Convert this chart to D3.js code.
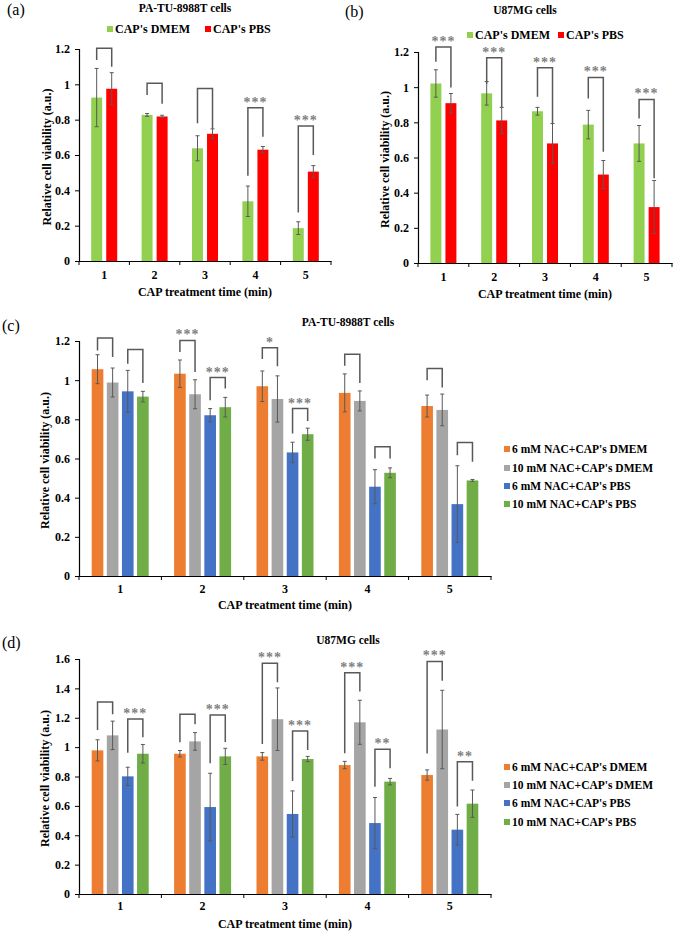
<!DOCTYPE html>
<html>
<head>
<meta charset="utf-8">
<script src="https://cdn.jsdelivr.net/npm/d3@7"></script>
<style>
  html, body { margin: 0; padding: 0; background: #fff; }
  svg { display: block; }
  text { font-family: "Liberation Serif", "Times New Roman", serif; }
</style>
</head>
<body>
<svg id="chart" width="675" height="932"></svg>
<script>
// ---------------- DATA ----------------
const categories = ["1", "2", "3", "4", "5"];

// Panel (a) PA-TU-8988T
const aDMEM = [0.925, 0.827, 0.638, 0.338, 0.186];
const aDMEMErr = [0.165, 0.008, 0.071, 0.086, 0.036];
const aPBS = [0.975, 0.818, 0.72, 0.63, 0.506];
const aPBSErr = [0.091, 0.007, 0.028, 0.018, 0.034];
const aBrTop = [1.204, 1.006, 0.977, 0.868, 0.764];
const aBrLeft = [1.138, 0.94, 0.78, 0.483, 0.275];
const aBrRight = [1.1, 0.89, 0.75, 0.704, 0.6];
const aStars = ["", "", "", "***", "***"];

// Panel (b) U87MG
const bDMEM = [1.021, 0.965, 0.863, 0.787, 0.68];
const bDMEMErr = [0.078, 0.067, 0.022, 0.081, 0.102];
const bPBS = [0.909, 0.811, 0.68, 0.503, 0.318];
const bPBSErr = [0.055, 0.074, 0.113, 0.08, 0.151];
const bBrTop = [1.229, 1.168, 1.111, 1.055, 0.93];
const bBrLeft = [1.144, 1.02, 0.945, 0.936, 0.822];
const bBrRight = [0.998, 0.885, 0.794, 0.633, 0.482];
const bStars = ["***", "***", "***", "***", "***"];

// Panel (c) PA-TU-8988T with NAC
const c6DMEM = [1.056, 1.033, 0.969, 0.935, 0.868];
const c6DMEMErr = [0.074, 0.07, 0.078, 0.097, 0.056];
const c10DMEM = [0.988, 0.928, 0.904, 0.894, 0.848];
const c10DMEMErr = [0.074, 0.074, 0.118, 0.051, 0.081];
const c6PBS = [0.943, 0.821, 0.631, 0.456, 0.367];
const c6PBSErr = [0.107, 0.034, 0.052, 0.087, 0.196];
const c10PBS = [0.916, 0.862, 0.724, 0.527, 0.488];
const c10PBSErr = [0.027, 0.05, 0.031, 0.025, 0.005];
const cBrDTop = [1.215, 1.203, 1.166, 1.132, 1.059];
const cBrDLeft = [1.152, 1.144, 1.108, 1.074, 1.0];
const cBrDRight = [1.118, 1.042, 1.071, 0.986, 0.962];
const cStarsD = ["", "***", "*", "", ""];
const cBrPTop = [1.156, 1.013, 0.855, 0.66, 0.682];
const cBrPLeft = [1.084, 0.897, 0.728, 0.6, 0.617];
const cBrPRight = [0.986, 0.957, 0.792, 0.6, 0.583];
const cStarsP = ["", "***", "***", "", ""];

// Panel (d) U87MG with NAC
const d6DMEM = [0.978, 0.955, 0.937, 0.878, 0.81];
const d6DMEMErr = [0.072, 0.022, 0.026, 0.025, 0.035];
const d10DMEM = [1.08, 1.039, 1.19, 1.169, 1.12];
const d10DMEMErr = [0.097, 0.06, 0.213, 0.15, 0.267];
const d6PBS = [0.801, 0.592, 0.545, 0.483, 0.438];
const d6PBSErr = [0.062, 0.23, 0.157, 0.174, 0.104];
const d10PBS = [0.955, 0.937, 0.919, 0.765, 0.615];
const d10PBSErr = [0.063, 0.055, 0.018, 0.022, 0.093];
const dBrDTop = [1.307, 1.223, 1.571, 1.507, 1.583];
const dBrDLeft = [1.117, 1.033, 1.021, 0.958, 0.957];
const dBrDRight = [1.223, 1.155, 1.441, 1.378, 1.452];
const dStarsD = ["", "", "***", "***", "***"];
const dBrPTop = [1.192, 1.219, 1.11, 0.985, 0.9];
const dBrPLeft = [0.962, 0.89, 0.769, 0.731, 0.596];
const dBrPRight = [1.067, 1.035, 0.98, 0.856, 0.771];
const dStarsP = ["***", "***", "***", "**", "**"];

const yTicks12 = [0, 0.2, 0.4, 0.6, 0.8, 1, 1.2];
const yTicks16 = [0, 0.2, 0.4, 0.6, 0.8, 1, 1.2, 1.4, 1.6];

const seriesAB = ["CAP's DMEM", "CAP's PBS"];
const colorsAB = ["#92D050", "#FF0000"];
const seriesCD = ["6 mM NAC+CAP's DMEM", "10 mM NAC+CAP's DMEM", "6 mM NAC+CAP's PBS", "10 mM NAC+CAP's PBS"];
const colorsCD = ["#ED7D31", "#A5A5A5", "#4472C4", "#70AD47"];

const yTitle = "Relative cell viability (a.u.)";
const xTitle = "CAP treatment time (min)";

// ---------------- DRAW ----------------
const svg = d3.select("#chart");
svg.append("rect").attr("width", 675).attr("height", 932).attr("fill", "#fff");

const ERR_COLOR = "#595959";
const BR_COLOR = "#595959";
const STAR_COLOR = "#808080";

function panel(cfg) {
  const g = svg.append("g");
  const x = d3.scaleBand().domain(categories).range(cfg.xRange).paddingInner(0).paddingOuter(0);
  const y = d3.scaleLinear().domain([0, cfg.yMax]).range(cfg.yRange);
  const xs = d3.scaleBand().domain(cfg.series).range([-cfg.groupW / 2, cfg.groupW / 2])
    .paddingInner(cfg.barPad).paddingOuter(0);
  const cx = (c) => x(c) + x.bandwidth() / 2;
  const sx = (c, s) => cx(c) + xs(s) + xs.bandwidth() / 2;

  // bars
  cfg.series.forEach((s, si) => {
    const vals = cfg.values[si];
    g.selectAll(null).data(categories).enter().append("rect")
      .attr("x", c => cx(c) + xs(s))
      .attr("width", xs.bandwidth())
      .attr("y", (c, i) => y(vals[i]))
      .attr("height", (c, i) => y(0) - y(vals[i]))
      .attr("fill", cfg.colors[si]);
  });
  // error bars
  cfg.series.forEach((s, si) => {
    const vals = cfg.values[si], errs = cfg.errors[si];
    categories.forEach((c, i) => {
      const xc = sx(c, s);
      const y1 = y(vals[i] + errs[i]), y2 = y(vals[i] - errs[i]);
      g.append("line").attr("x1", xc).attr("x2", xc).attr("y1", y1).attr("y2", y2)
        .attr("stroke", ERR_COLOR).attr("stroke-width", 1);
      [y1, y2].forEach(yy => g.append("line").attr("x1", xc - 2).attr("x2", xc + 2)
        .attr("y1", yy).attr("y2", yy).attr("stroke", ERR_COLOR).attr("stroke-width", 1));
    });
  });
  // brackets
  cfg.brackets.forEach(br => {
    categories.forEach((c, i) => {
      const xl = sx(c, cfg.series[br.pair[0]]), xr = sx(c, cfg.series[br.pair[1]]);
      const yt = y(br.top[i]);
      g.append("path")
        .attr("d", `M${xl},${y(br.left[i])}V${yt}H${xr}V${y(br.right[i])}`)
        .attr("fill", "none").attr("stroke", BR_COLOR).attr("stroke-width", 1.5);
      if (br.stars[i]) {
        g.append("text").attr("x", (xl + xr) / 2).attr("y", yt - 1)
          .attr("text-anchor", "middle")
          .attr("font-size", 14).attr("font-weight", "bold").attr("fill", STAR_COLOR)
          .attr("letter-spacing", 1)
          .text(br.stars[i]);
      }
    });
  });
  // axes
  const ya = g.append("g").attr("transform", `translate(${cfg.xRange[0]},0)`)
    .call(d3.axisLeft(y).tickValues(cfg.yTicks).tickSize(4).tickPadding(5).tickFormat(d3.format("")));
  const xa = g.append("g").attr("transform", `translate(0,${cfg.yRange[0]})`)
    .call(d3.axisBottom(x).tickSize(0).tickPadding(cfg.xLabelPad));
  [ya, xa].forEach(a => {
    a.attr("font-family", null).attr("font-size", null);
    a.select(".domain").attr("stroke", "#000").attr("stroke-width", 1.2);
    a.selectAll("text").attr("font-size", 12).attr("font-weight", "bold").attr("fill", "#000");
    a.selectAll(".tick line").attr("stroke", "#000");
  });
  // x boundary ticks
  const bounds = categories.map(c => x(c)).concat([cfg.xRange[1]]);
  g.selectAll(null).data(bounds).enter().append("line")
    .attr("x1", d => d).attr("x2", d => d)
    .attr("y1", cfg.yRange[0]).attr("y2", cfg.yRange[0] + 4)
    .attr("stroke", "#000").attr("stroke-width", 1);

  // titles
  g.append("text").attr("x", (cfg.xRange[0] + cfg.xRange[1]) / 2 + (cfg.xTitleShift || 0))
    .attr("y", cfg.yRange[0] + cfg.xTitlePad)
    .attr("text-anchor", "middle").attr("font-size", 12).attr("font-weight", "bold").text(xTitle);
  g.append("text").attr("transform", `translate(${cfg.yTitleX},${(cfg.yRange[0] + cfg.yRange[1]) / 2 + 2}) rotate(-90)`)
    .attr("text-anchor", "middle").attr("dominant-baseline", "central")
    .attr("font-size", 12).attr("font-weight", "bold").text(yTitle);
  g.append("text").attr("x", cfg.titlePos[0]).attr("y", cfg.titlePos[1])
    .attr("text-anchor", "middle").attr("dominant-baseline", "central")
    .attr("font-size", 11.5).attr("font-weight", "bold").text(cfg.title);
  g.append("text").attr("x", cfg.labelPos[0]).attr("y", cfg.labelPos[1])
    .attr("dominant-baseline", "central").attr("font-size", 16).text(cfg.label);

  // legend
  cfg.legend.forEach((p, i) => {
    g.append("rect").attr("x", p[0]).attr("y", p[1] - 3).attr("width", 6).attr("height", 6)
      .attr("fill", cfg.colors[i]);
    g.append("text").attr("x", p[0] + 8).attr("y", p[1]).attr("dominant-baseline", "central")
      .attr("font-size", cfg.legendFont).attr("font-weight", "bold").text(cfg.series[i]);
  });
}

panel({
  xRange: [79, 331], yRange: [261, 49], yMax: 1.2, yTicks: yTicks12,
  series: seriesAB, colors: colorsAB, groupW: 26, barPad: 0.27,
  values: [aDMEM, aPBS], errors: [aDMEMErr, aPBSErr],
  brackets: [{ pair: [0, 1], top: aBrTop, left: aBrLeft, right: aBrRight, stars: aStars }],
  xLabelPad: 9, xTitlePad: 35, yTitleX: 47,
  title: "PA-TU-8988T cells", titlePos: [185, 8], label: "(a)", labelPos: [7, 9],
  legend: [[107, 29], [205, 29]], legendFont: 12
});

panel({
  xRange: [418, 672], yRange: [263, 52], yMax: 1.2, yTicks: yTicks12,
  series: seriesAB, colors: colorsAB, groupW: 26, barPad: 0.27,
  values: [bDMEM, bPBS], errors: [bDMEMErr, bPBSErr],
  brackets: [{ pair: [0, 1], top: bBrTop, left: bBrLeft, right: bBrRight, stars: bStars }],
  xLabelPad: 9, xTitlePad: 35, yTitleX: 385,
  title: "U87MG cells", titlePos: [525, 10], label: "(b)", labelPos: [345, 11],
  legend: [[467, 35], [558, 35]], legendFont: 12
});

panel({
  xRange: [79, 491], yRange: [576, 341], yMax: 1.2, yTicks: yTicks12,
  series: seriesCD, colors: colorsCD, groupW: 57, barPad: 0.23,
  values: [c6DMEM, c10DMEM, c6PBS, c10PBS], errors: [c6DMEMErr, c10DMEMErr, c6PBSErr, c10PBSErr],
  brackets: [
    { pair: [0, 1], top: cBrDTop, left: cBrDLeft, right: cBrDRight, stars: cStarsD },
    { pair: [2, 3], top: cBrPTop, left: cBrPLeft, right: cBrPRight, stars: cStarsP }
  ],
  xLabelPad: 8, xTitlePad: 33, yTitleX: 45,
  title: "PA-TU-8988T cells", titlePos: [348, 322], label: "(c)", labelPos: [2, 325],
  legend: [[504, 449], [504, 468], [504, 486], [504, 504]], legendFont: 11.5
});

panel({
  xRange: [79, 491], yRange: [894, 659], yMax: 1.6, yTicks: yTicks16,
  series: seriesCD, colors: colorsCD, groupW: 57, barPad: 0.23,
  values: [d6DMEM, d10DMEM, d6PBS, d10PBS], errors: [d6DMEMErr, d10DMEMErr, d6PBSErr, d10PBSErr],
  brackets: [
    { pair: [0, 1], top: dBrDTop, left: dBrDLeft, right: dBrDRight, stars: dStarsD },
    { pair: [2, 3], top: dBrPTop, left: dBrPLeft, right: dBrPRight, stars: dStarsP }
  ],
  xLabelPad: 7, xTitlePad: 34, yTitleX: 45,
  title: "U87MG cells", titlePos: [348, 640], label: "(d)", labelPos: [2, 642],
  legend: [[504, 767], [504, 785], [504, 803], [504, 822]], legendFont: 11.5
});
</script>
</body>
</html>
